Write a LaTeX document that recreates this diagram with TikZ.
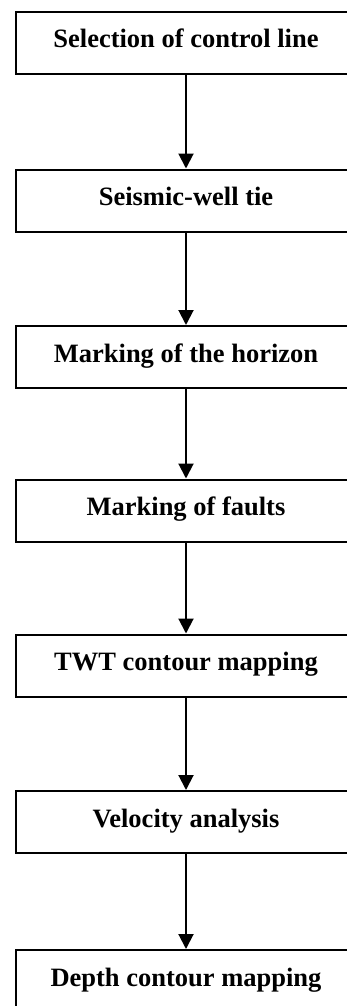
\documentclass[tikz,border=0pt]{standalone}
\usepackage{fontspec}
\setmainfont{Liberation Serif}
\usetikzlibrary{arrows.meta}
\begin{document}
\begin{tikzpicture}[x=1pt,y=-1pt,
  stepbox/.style={draw, line width=2pt, minimum width=340pt, minimum height=62pt,
    inner sep=0pt, text height=18pt, text depth=8pt,
    font=\fontsize{26.5}{29}\selectfont\bfseries},
  flow/.style={line width=2pt, -{Triangle[width=15pt,length=15pt]}}]
\useasboundingbox (0,0) rectangle (347,1006);
\clip (0,0) rectangle (347,1006);
\node[stepbox] (s1) at (186,43) {Selection of control line};
\node[stepbox] (s2) at (186,200.5) {Seismic-well tie};
\node[stepbox] (s3) at (186,357) {Marking of the horizon};
\node[stepbox] (s4) at (186,510.5) {Marking of faults};
\node[stepbox] (s5) at (186,665.5) {TWT contour mapping};
\node[stepbox] (s6) at (186,822) {Velocity analysis};
\node[stepbox] (s7) at (186,981) {Depth contour mapping};
\foreach \a/\b in {s1/s2,s2/s3,s3/s4,s4/s5,s5/s6,s6/s7}
  \draw[flow] (\a.south) -- (\b.north);
\end{tikzpicture}
\end{document}
